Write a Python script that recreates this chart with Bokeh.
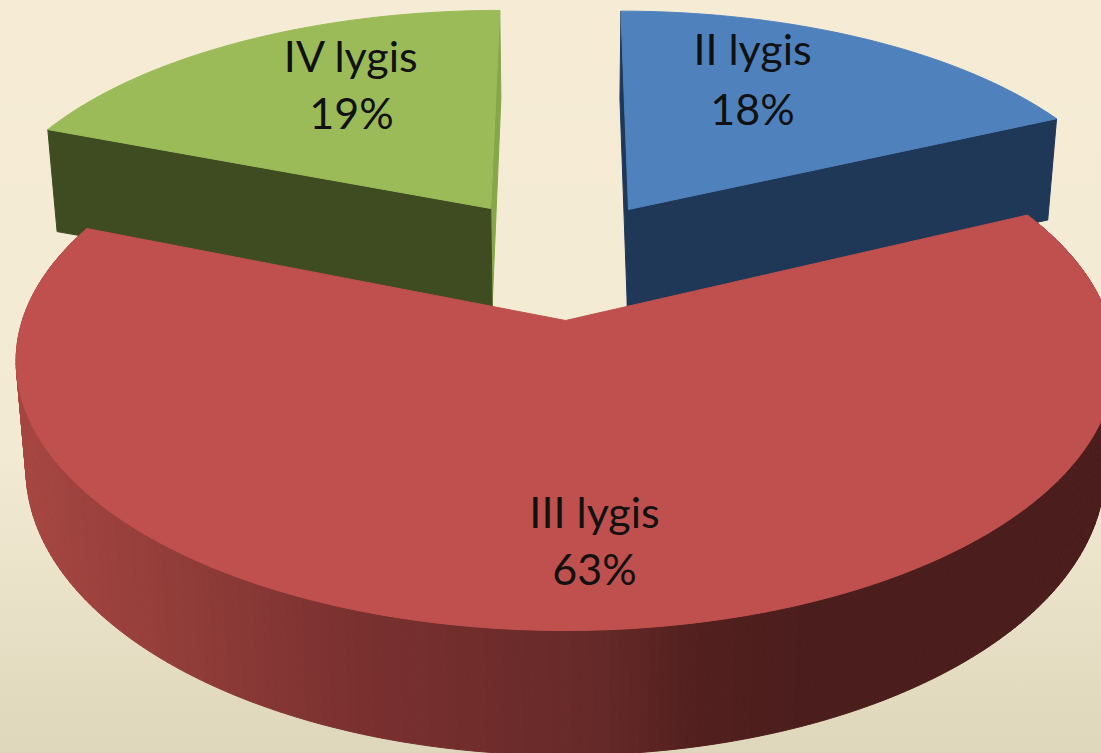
import numpy as np
from bokeh.plotting import figure
from bokeh.embed import file_html
from bokeh.resources import INLINE
from bokeh.core.properties import value

# --- chart data
names = ["II lygis", "III lygis", "IV lygis"]
shares = [18, 63, 19]

# --- colours
top_colors = ["#4f81bd", "#c0504d", "#9bbb59"]
side_colors = ["#1f3858", "#4b1e1e", "#3f4b20"]
back_wall_colors = ["#1f3858", "#4b1e1e", "#86a64a"]
rim_stop_x = [25, 200, 350, 500, 600, 700, 800, 1100]
rim_stop_rgb = [(166, 70, 65), (142, 59, 56), (122, 49, 48), (110, 44, 43),
                (101, 42, 40), (82, 31, 30), (75, 30, 29), (75, 30, 29)]

# --- 3D projection of the pie plane to screen pixels
CX, CY = 565.0, 320.0
RX, RY = 547.0, 263.5
PERSP = 0.15
DEPTH = 106.0
TAPER = 0.982
explode = [(0.123, 0.45), (0.0, 0.0), (-0.146, 0.454)]
radius_u = [0.985, 0.993, 0.985]
radius_v = [0.975, 1.0, 0.975]
side_depth_gain = 1.08
label_xy = [((752, 48), (752, 108)), ((594, 511), (594, 568)), ((351, 55), (351, 112))]


def project(u, v, depth=0.0):
    u, v = np.asarray(u, float), np.asarray(v, float)
    w = 1 + PERSP * v
    x = RX * u / w
    y = CY - RY * v / w
    if depth:
        return CX + x * TAPER, y + depth / w
    return CX + x, y


p = figure(width=1101, height=753, x_range=(0, 1101), y_range=(753, 0),
           output_backend="svg", toolbar_location=None, min_border=0,
           background_fill_alpha=0, border_fill_alpha=0, outline_line_color=None)
p.xaxis.visible = False
p.yaxis.visible = False
p.grid.visible = False

edges = np.cumsum([0] + shares) / sum(shares) * 2 * np.pi


def slice_geometry(i):
    n = 260 if i == 1 else 70
    th = np.linspace(edges[i], edges[i + 1], n)
    ou, ov = explode[i]
    return ou + radius_u[i] * np.sin(th), ov + radius_v[i] * np.cos(th), ou, ov


def wall(ax_u, ax_v, ru, rv, color, rim_gain=1.0):
    xs = []
    ys = []
    for (u, v, d) in [(ax_u, ax_v, 0.0), (ru, rv, 0.0), (ru, rv, DEPTH * rim_gain), (ax_u, ax_v, DEPTH)]:
        x, y = project(u, v, d)
        xs.append(float(x))
        ys.append(float(y))
    p.patch(xs, ys, fill_color=color, line_color=color, line_width=1)


# exploded back slices
for i in (0, 2):
    u, v, ou, ov = slice_geometry(i)
    if i == 0:
        wall(ou, ov, u[0], v[0], back_wall_colors[i])
        wall(ou, ov, u[-1], v[-1], side_colors[i], side_depth_gain)
    else:
        wall(ou, ov, u[-1], v[-1], back_wall_colors[i])
        wall(ou, ov, u[0], v[0], side_colors[i], side_depth_gain)
    x, y = project(u, v)
    ax, ay = project(ou, ov)
    p.patch([float(ax)] + list(x), [float(ay)] + list(y),
            fill_color=top_colors[i], line_color=top_colors[i], line_width=1)

# large slice: shaded rim first, top face over it
u, v, ou, ov = slice_geometry(1)
xt, yt = project(u, v)
xb, yb = project(u, v, DEPTH)
rim_xs, rim_ys, rim_cols = [], [], []
for k in range(len(u) - 1):
    mid = (xt[k] + xt[k + 1]) / 2
    c = [int(round(np.interp(mid, rim_stop_x, [s[j] for s in rim_stop_rgb]))) for j in range(3)]
    rim_xs.append([xt[k], xt[k + 1], xb[k + 1], xb[k]])
    rim_ys.append([yt[k], yt[k + 1], yb[k + 1], yb[k]])
    rim_cols.append("#%02x%02x%02x" % tuple(c))
p.patches(rim_xs, rim_ys, fill_color=rim_cols, line_color=rim_cols, line_width=1)
ax, ay = project(ou, ov)
p.patch([float(ax)] + list(xt), [float(ay)] + list(yt),
        fill_color=top_colors[1], line_color=top_colors[1], line_width=1)

# labels
for name, share, (l1, l2) in zip(names, shares, label_xy):
    for text, (tx, ty) in ((name, l1), (f"{share}%", l2)):
        p.text([tx], [ty], text=[text], text_align="center", text_baseline="middle",
               text_font=value("Lato"), text_font_size="43px", text_color="#111111")

html = file_html(p, INLINE)
css = ("<style>html{height:100%;background:linear-gradient(180deg,#f6ecd6 0%,#f3ead4 60%,"
       "#dfd7bb 100%);background-attachment:fixed;}body{background:transparent;overflow:hidden;}</style>")
html = html.replace("</head>", css + "</head>", 1)
open("out.html", "w").write(html)
